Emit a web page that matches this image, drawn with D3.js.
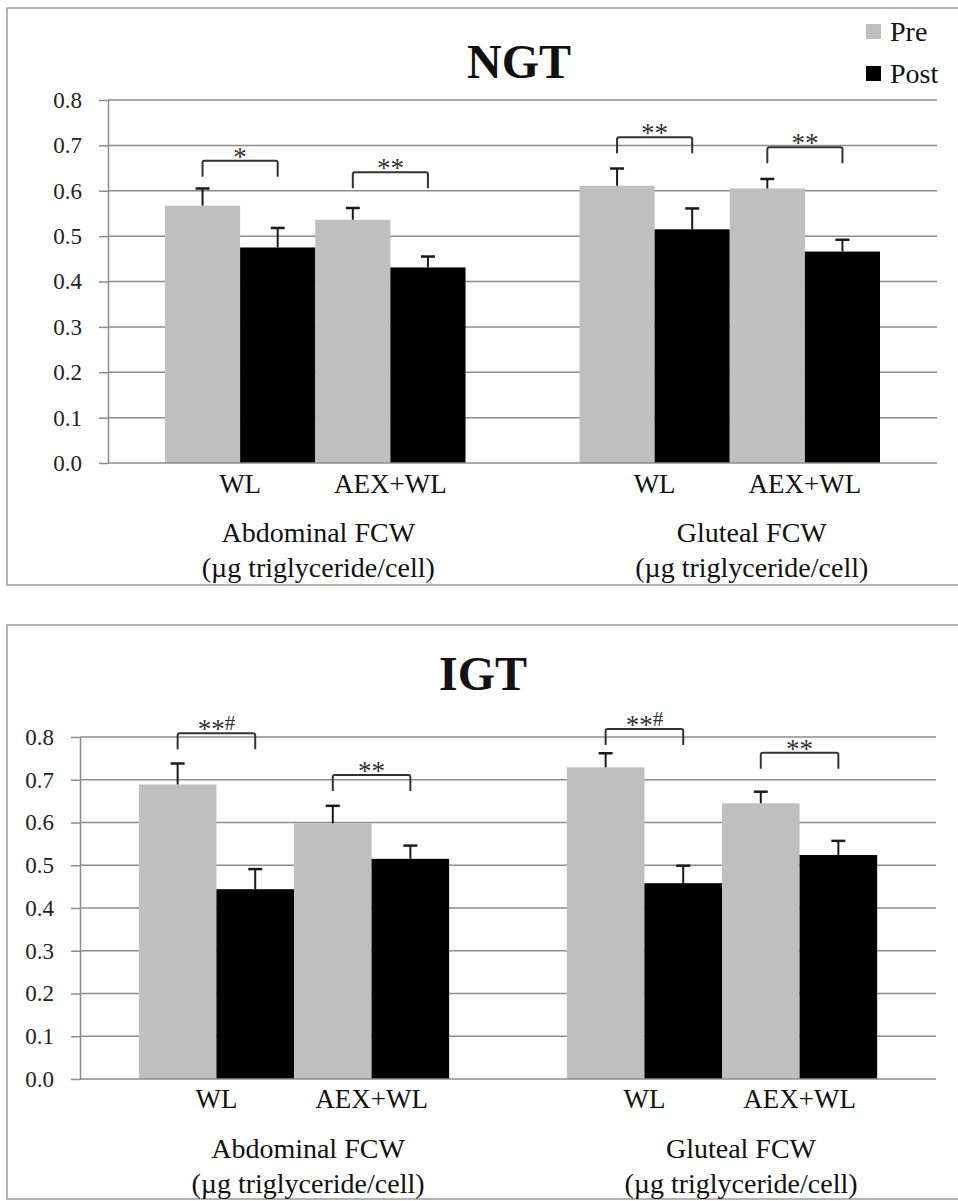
<!DOCTYPE html>
<html>
<head>
<meta charset="utf-8">
<script src="https://cdn.jsdelivr.net/npm/d3@7"></script>
</head>
<body style="margin:0;background:#fff">
<div id="chart"></div>
<script>
// categories
const groups = ['Abdominal FCW', 'Gluteal FCW'];
const treatments = ['WL', 'AEX+WL'];
const phases = ['Pre', 'Post'];
const yTicks = [0, 0.1, 0.2, 0.3, 0.4, 0.5, 0.6, 0.7, 0.8];

// NGT values, order: Abd WL, Abd AEX+WL, Glut WL, Glut AEX+WL
const ngtPre = [0.567, 0.536, 0.611, 0.605];
const ngtPost = [0.475, 0.431, 0.515, 0.466];
const ngtPreErr = [0.038, 0.026, 0.038, 0.021];
const ngtPostErr = [0.043, 0.024, 0.046, 0.026];
const ngtSig = ['*', '**', '**', '**'];
const ngtBracket = [0.666, 0.641, 0.718, 0.696];

// IGT values
const igtPre = [0.689, 0.598, 0.729, 0.645];
const igtPost = [0.444, 0.515, 0.458, 0.524];
const igtPreErr = [0.049, 0.041, 0.033, 0.027];
const igtPostErr = [0.047, 0.031, 0.041, 0.033];
const igtSig = ['**#', '**', '**#', '**'];
const igtBracket = [0.809, 0.711, 0.819, 0.763];

const colors = { Pre: '#bfbfbf', Post: '#000000' };
const FONT = 'Liberation Serif';

const svg = d3.select('#chart').append('svg')
    .attr('width', 958)
    .attr('height', 1201)
    .style('font-family', FONT);

const label = (sel, size) => sel
    .style('font-family', FONT)
    .style('font-size', size + 'px')
    .attr('fill', '#111');

const panels = [
    { title: 'NGT', pre: ngtPre, post: ngtPost, preErr: ngtPreErr, postErr: ngtPostErr,
      sig: ngtSig, bracket: ngtBracket,
      frame: [7, 8, 960, 577], left: 108, right: 937, top: 100, bottom: 463,
      titleX: 519, titleY: 78, legend: true,
      catY: 493, grpY: [542, 577], grpDx: [3, 22] },
    { title: 'IGT', pre: igtPre, post: igtPost, preErr: igtPreErr, postErr: igtPostErr,
      sig: igtSig, bracket: igtBracket,
      frame: [7, 625, 960, 574], left: 80, right: 936, top: 737, bottom: 1079,
      titleX: 483, titleY: 690, legend: false,
      catY: 1108, grpY: [1158, 1193], grpDx: [14, 19] }
];

panels.forEach(p => {
    const g = svg.append('g');

    g.append('rect')
        .attr('x', p.frame[0]).attr('y', p.frame[1])
        .attr('width', p.frame[2]).attr('height', p.frame[3])
        .attr('fill', '#fff')
        .attr('stroke', '#9a9a9a')
        .attr('stroke-width', 1.5);

    const y = d3.scaleLinear().domain([0, 0.8]).range([p.bottom, p.top]);

    const x0 = d3.scaleBand()
        .domain(groups)
        .range([p.left, p.right])
        .paddingInner(0.275)
        .paddingOuter(0.1375);

    const barKeys = [];
    treatments.forEach(t => phases.forEach(ph => barKeys.push(t + '|' + ph)));
    const x1 = d3.scaleBand().domain(barKeys).range([0, x0.bandwidth()]);

    const bars = [];
    groups.forEach((grp, gi) => {
        treatments.forEach((t, ti) => {
            const i = gi * 2 + ti;
            bars.push({ grp, t, ph: 'Pre', v: p.pre[i], e: p.preErr[i] });
            bars.push({ grp, t, ph: 'Post', v: p.post[i], e: p.postErr[i] });
        });
    });
    const bx = d => x0(d.grp) + x1(d.t + '|' + d.ph);

    // gridlines
    g.append('g').selectAll('line')
        .data(yTicks.slice(1))
        .enter().append('line')
        .attr('x1', p.left).attr('x2', p.right)
        .attr('y1', d => y(d)).attr('y2', d => y(d))
        .attr('stroke', '#8c8c8c')
        .attr('stroke-width', 1.5);

    // y axis
    const axis = g.append('g')
        .attr('transform', `translate(${p.left},0)`)
        .call(d3.axisLeft(y)
            .tickValues(yTicks)
            .tickSize(9)
            .tickSizeOuter(0)
            .tickPadding(17)
            .tickFormat(d3.format('.1f')));
    axis.attr('font-family', null).attr('font-size', null);
    axis.selectAll('line, path').attr('stroke', '#8c8c8c').attr('stroke-width', 1.5);
    label(axis.selectAll('text'), 23).attr('fill', '#222');

    // bars
    g.append('g').selectAll('rect')
        .data(bars)
        .enter().append('rect')
        .attr('x', bx)
        .attr('y', d => y(d.v))
        .attr('width', x1.bandwidth())
        .attr('height', d => y(0) - y(d.v))
        .attr('fill', d => colors[d.ph]);

    g.append('line')
        .attr('x1', p.left).attr('x2', p.right)
        .attr('y1', y(0)).attr('y2', y(0))
        .attr('stroke', '#8c8c8c').attr('stroke-width', 1.5);

    // error bars (upper only)
    const eb = g.append('g').selectAll('g')
        .data(bars)
        .enter().append('g');
    eb.append('line')
        .attr('x1', d => bx(d) + x1.bandwidth() / 2)
        .attr('x2', d => bx(d) + x1.bandwidth() / 2)
        .attr('y1', d => y(d.v))
        .attr('y2', d => y(d.v + d.e))
        .attr('stroke', '#1a1a1a').attr('stroke-width', 2);
    eb.append('line')
        .attr('x1', d => bx(d) + x1.bandwidth() / 2 - 7)
        .attr('x2', d => bx(d) + x1.bandwidth() / 2 + 7)
        .attr('y1', d => y(d.v + d.e))
        .attr('y2', d => y(d.v + d.e))
        .attr('stroke', '#1a1a1a').attr('stroke-width', 2.5);

    // significance brackets
    const pairs = [];
    groups.forEach((grp, gi) => treatments.forEach((t, ti) => {
        const i = gi * 2 + ti;
        pairs.push({ grp, t, level: p.bracket[i], sig: p.sig[i] });
    }));
    const pairX = (d, ph) => x0(d.grp) + x1(d.t + '|' + ph) + x1.bandwidth() / 2;

    g.append('g').selectAll('path')
        .data(pairs)
        .enter().append('path')
        .attr('d', d => {
            const a = pairX(d, 'Pre'), b = pairX(d, 'Post'), yy = y(d.level);
            return `M${a},${yy + 16}V${yy + 2}Q${a},${yy} ${a + 2},${yy}H${b - 2}Q${b},${yy} ${b},${yy + 2}V${yy + 16}`;
        })
        .attr('fill', 'none')
        .attr('stroke', '#333')
        .attr('stroke-width', 2);

    const st = g.append('g').selectAll('text')
        .data(pairs)
        .enter().append('text')
        .attr('x', d => (pairX(d, 'Pre') + pairX(d, 'Post')) / 2)
        .attr('y', d => y(d.level) + 5)
        .attr('text-anchor', 'middle');
    label(st, 27).attr('fill', '#333');
    st.append('tspan').text(d => d.sig.replace('#', ''));
    st.filter(d => d.sig.includes('#'))
        .append('tspan')
        .attr('dy', -8)
        .style('font-size', '21px')
        .text('#');

    // category labels
    const cl = g.append('g').selectAll('text')
        .data(groups.flatMap(grp => treatments.map(t => ({ grp, t }))))
        .enter().append('text')
        .attr('x', d => x0(d.grp) + x1(d.t + '|Pre') + x1.bandwidth())
        .attr('y', p.catY)
        .attr('text-anchor', 'middle')
        .text(d => d.t);
    label(cl, 27);

    // group labels
    groups.forEach((grp, gi) => {
        const cx = x0(grp) + x0.bandwidth() / 2 + p.grpDx[gi];
        label(g.append('text')
            .attr('x', cx).attr('y', p.grpY[0])
            .attr('text-anchor', 'middle')
            .text(grp), 28);
        label(g.append('text')
            .attr('x', cx).attr('y', p.grpY[1])
            .attr('text-anchor', 'middle')
            .text('(\u00b5g triglyceride/cell)'), 28);
    });

    // title
    label(g.append('text')
        .attr('x', p.titleX).attr('y', p.titleY)
        .attr('text-anchor', 'middle')
        .style('font-weight', 'bold')
        .text(p.title), 48);

    // legend
    if (p.legend) {
        const lg = g.append('g').selectAll('g')
            .data(phases)
            .enter().append('g')
            .attr('transform', (d, i) => `translate(866,${24 + i * 42})`);
        lg.append('rect')
            .attr('width', 15).attr('height', 15)
            .attr('fill', d => colors[d]);
        label(lg.append('text')
            .attr('x', 24).attr('y', 17)
            .text(d => d), 28);
    }
});
</script>
</body>
</html>
